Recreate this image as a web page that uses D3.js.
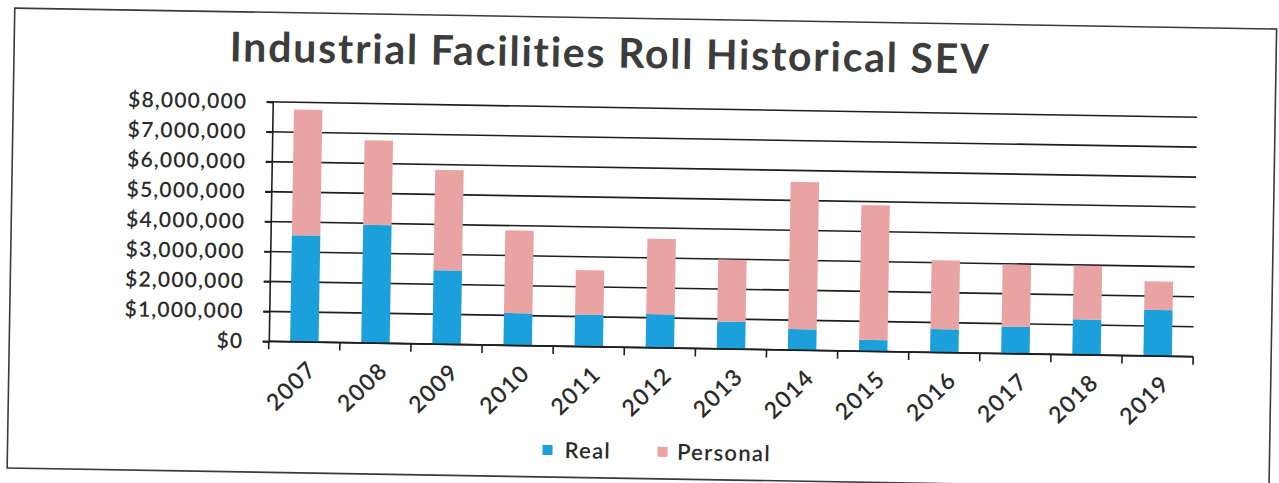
<!DOCTYPE html>
<html>
<head>
<meta charset="utf-8">
<script src="https://cdn.jsdelivr.net/npm/d3@7"></script>
<style>
  html, body { margin: 0; padding: 0; background: #ffffff; }
  svg { display: block; }
</style>
</head>
<body>
<svg id="chart" width="1279" height="483"></svg>
<script>
// ---- data ----
const years = ["2007","2008","2009","2010","2011","2012","2013","2014","2015","2016","2017","2018","2019"];
const realValues     = [3560000, 3950000, 2470000, 1080000, 1070000, 1120000, 910000, 700000, 380000, 780000, 900000, 1180000, 1540000];
const personalValues = [4200000, 2820000, 3350000, 2760000, 1480000, 2520000, 2070000, 4920000, 4500000, 2300000, 2070000, 1800000, 950000];
const yTickValues = [0, 1000000, 2000000, 3000000, 4000000, 5000000, 6000000, 7000000, 8000000];
const seriesNames = ["Real", "Personal"];
const titleText = "Industrial Facilities Roll Historical SEV";

// ---- layout / style ----
const W = 1279, H = 483;
const plotLeft = 270.5, plotRight = 1195, plotTop = 108, plotBottom = 347.5;
const colors = { Real: "#1ca0dc", Personal: "#e9a3a3" };
const ink = "#2b2b2b";
const font = "Lato, 'Open Sans', sans-serif";

const svg = d3.select("#chart");
svg.append("rect").attr("width", W).attr("height", H).attr("fill", "#fff");
// the scanned page is slightly tilted
const g = svg.append("g").attr("transform", "rotate(0.95, 640, 241)");

// frame
g.append("rect").attr("x", 11).attr("y", 18.5).attr("width", 1262).attr("height", 460)
  .attr("fill", "none").attr("stroke", "#3a3a3a").attr("stroke-width", 1.6);

const x = d3.scaleBand().domain(years).range([plotLeft, plotRight]).paddingInner(0.6).paddingOuter(0.3);
const y = d3.scaleLinear().domain([0, 8000000]).range([plotBottom, plotTop]);

// gridlines (extend left as tick marks)
g.append("g").selectAll("line").data(yTickValues).join("line")
  .attr("x1", plotLeft - 6).attr("x2", plotRight)
  .attr("y1", d => y(d)).attr("y2", d => y(d))
  .attr("stroke", "#1e1e1e").attr("stroke-width", 1.6);

// y axis
const yAxis = g.append("g").attr("transform", `translate(${plotLeft},0)`)
  .call(d3.axisLeft(y).tickValues(yTickValues).tickFormat(d3.format("$,")).tickSize(6).tickPadding(19.5));
yAxis.select(".domain").attr("stroke", "#1e1e1e").attr("stroke-width", 1.6);
yAxis.selectAll(".tick line").attr("stroke", "#1e1e1e").attr("stroke-width", 1.6);
yAxis.selectAll(".tick text").attr("font-family", font).attr("font-size", 21)
  .attr("letter-spacing", "1.2px").attr("fill", ink).attr("font-weight", 600);

// stacked bars
const rows = years.map((yr, i) => ({ year: yr, Real: realValues[i], Personal: personalValues[i] }));
const stack = d3.stack().keys(seriesNames)(rows);
g.append("g").selectAll("g").data(stack).join("g")
  .attr("fill", d => colors[d.key])
  .selectAll("rect").data(d => d).join("rect")
  .attr("x", d => x(d.data.year))
  .attr("width", x.bandwidth())
  .attr("y", d => y(d[1]))
  .attr("height", d => y(d[0]) - y(d[1]));

// x axis line and boundary ticks
const step = x.step();
const x0 = plotLeft;
g.append("line").attr("x1", plotLeft).attr("x2", plotRight)
  .attr("y1", plotBottom).attr("y2", plotBottom)
  .attr("stroke", "#1e1e1e").attr("stroke-width", 1.8);
g.append("g").selectAll("line").data(d3.range(years.length + 1)).join("line")
  .attr("x1", i => x0 + i * step).attr("x2", i => x0 + i * step)
  .attr("y1", plotBottom).attr("y2", plotBottom + 8)
  .attr("stroke", "#1e1e1e").attr("stroke-width", 1.6);

// x labels rotated -45
g.append("g").selectAll("text").data(years).join("text")
  .attr("transform", d => `translate(${x(d) + x.bandwidth() / 2 + 14},${plotBottom + 29}) rotate(-45)`)
  .attr("text-anchor", "end")
  .attr("font-family", font).attr("font-size", 23).attr("letter-spacing", "1.3px")
  .attr("font-weight", 600).attr("fill", ink)
  .text(d => d);

// title
g.append("text").attr("x", 607).attr("y", 68).attr("text-anchor", "middle")
  .attr("font-family", font).attr("font-size", 41).attr("font-weight", 700)
  .attr("letter-spacing", "1.8px")
  .attr("fill", "#3c3c3c").text(titleText);

// legend
const legendItems = [
  { name: seriesNames[0], sx: 551, tx: 568 },
  { name: seriesNames[1], sx: 666, tx: 680.5 }
];
const lg = g.append("g");
lg.selectAll("rect").data(legendItems).join("rect")
  .attr("x", d => d.sx - 5).attr("y", 451.5 - 5).attr("width", 10).attr("height", 10)
  .attr("fill", d => colors[d.name]);
lg.selectAll("text").data(legendItems).join("text")
  .attr("x", d => d.tx).attr("y", 451.5).attr("dy", "0.35em")
  .attr("font-family", font).attr("font-size", 22).attr("letter-spacing", "1.3px")
  .attr("font-weight", 600).attr("fill", ink)
  .text(d => d.name);
</script>
</body>
</html>
